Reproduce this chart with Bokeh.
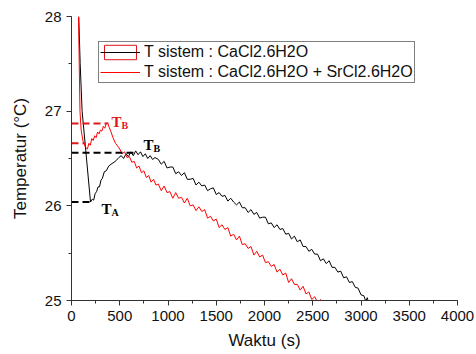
from bokeh.plotting import figure
from bokeh.models import (ColumnDataSource, Range1d, SingleIntervalTicker, Legend,
                          LegendItem, Label)
from bokeh.embed import file_html
from bokeh.resources import INLINE

# ---- data ----
black_t = [75, 90, 110, 150, 197, 215, 230, 245, 260, 275, 290, 305, 320, 340, 360, 386, 410,
           440, 465, 490, 515, 540, 565, 590, 615, 640, 665, 690, 715, 740, 765, 790, 815,
           840, 865,
           900, 930, 960, 990, 1020, 1050, 1080, 1110, 1140, 1170, 1200, 1230, 1260, 1290,
           1320, 1350, 1380, 1410, 1440, 1470, 1500, 1530, 1560, 1590, 1620, 1650, 1680, 1710,
           1740, 1770, 1800, 1830, 1860, 1890, 1920, 1950, 1980, 2010, 2040, 2070, 2100, 2130,
           2160, 2190, 2220, 2250, 2280, 2310, 2340, 2370, 2400, 2430, 2460, 2490, 2520, 2550,
           2580, 2610, 2640, 2670, 2700, 2730, 2760, 2790, 2820, 2850, 2880, 2910, 2940, 2970,
           3000, 3030, 3050, 3065, 3080]
black_T = [28.0, 27.5, 27.0, 26.56, 26.04, 26.07, 26.06, 26.13, 26.15, 26.2, 26.2, 26.27, 26.29,
           26.36, 26.37, 26.42, 26.44, 26.46, 26.48, 26.51, 26.53, 26.50, 26.55, 26.52, 26.57,
           26.53, 26.58, 26.54, 26.57, 26.52, 26.55, 26.50, 26.53, 26.49, 26.51,
           26.49, 26.44, 26.47, 26.40, 26.41, 26.41, 26.34, 26.36, 26.32, 26.35, 26.28, 26.28,
           26.29, 26.22, 26.25, 26.21, 26.22, 26.16, 26.18, 26.19, 26.12, 26.14, 26.10, 26.11,
           26.05, 26.08, 26.04, 26.01, 26.04, 25.98, 25.98, 25.93, 25.96, 25.91, 25.93, 25.87,
           25.88, 25.88, 25.81, 25.82, 25.77, 25.80, 25.75, 25.76, 25.70, 25.71, 25.65, 25.68,
           25.62, 25.64, 25.57, 25.57, 25.52, 25.54, 25.49, 25.49, 25.42, 25.44, 25.39, 25.42,
           25.35, 25.35, 25.30, 25.31, 25.24, 25.25, 25.19, 25.20, 25.14, 25.13, 25.06, 25.05,
           24.99, 25.03, 24.97]

red_t = [73, 80, 88, 100, 120, 145, 165, 180, 195, 210, 225, 240, 255, 270, 285, 300, 315, 330,
         345, 360, 375, 390, 410, 430, 456, 480, 500, 525, 550, 575, 600, 625, 650, 675, 700,
         725, 750, 775, 800, 825, 850, 875,
         900, 930, 960, 990, 1020, 1050, 1080, 1110, 1140, 1170, 1200, 1230, 1260, 1290, 1320,
         1350, 1380, 1410, 1440, 1470, 1500, 1530, 1560, 1590, 1620, 1650, 1680, 1710, 1740,
         1770, 1800, 1830, 1860, 1890, 1920, 1950, 1980, 2010, 2040, 2070, 2100, 2130, 2160,
         2190, 2220, 2250, 2280, 2310, 2340, 2370, 2400, 2430, 2460, 2490, 2520, 2550, 2580,
         2610, 2640, 2670, 2700]
red_T = [28.0, 27.5, 27.0, 26.8, 26.68, 26.62, 26.6, 26.66, 26.64, 26.71, 26.69, 26.74, 26.72,
         26.78, 26.76, 26.8, 26.79, 26.84, 26.82, 26.87, 26.88, 26.83, 26.78, 26.72, 26.66,
         26.63, 26.60, 26.55, 26.57, 26.51, 26.52, 26.46, 26.47, 26.40, 26.42, 26.35, 26.37,
         26.30, 26.32, 26.25, 26.28, 26.22,
         26.23, 26.16, 26.21, 26.14, 26.15, 26.08, 26.14, 26.08, 26.09, 26.03, 26.08, 26.00,
         26.01, 25.95, 25.99, 25.94, 25.96, 25.87, 25.89, 25.84, 25.86, 25.77, 25.80, 25.75,
         25.77, 25.68, 25.70, 25.64, 25.68, 25.59, 25.60, 25.55, 25.57, 25.48, 25.52, 25.46,
         25.48, 25.40, 25.41, 25.36, 25.38, 25.30, 25.33, 25.27, 25.29, 25.19, 25.23, 25.17,
         25.17, 25.11, 25.15, 25.07, 25.09, 25.01, 25.04, 24.98, 25.01, 24.97, 24.98, 24.95,
         24.93]

# T_A / T_B reference levels and the time they are marked at
ref_T = [26.87, 26.66, 26.56, 26.04]
ref_t_end = [373, 145, 642, 218]
ref_color = ["#e0161b", "#e0161b", "black", "black"]
label_text = ["B", "A", "B", "A"]
label_t = [414, -197, 746, 311]
label_T = [26.89, 26.66, 26.645, 25.97]

x_ticks_step = 500
y_ticks_step = 1
series_names = ["T sistem : CaCl2.6H2O", "T sistem : CaCl2.6H2O + SrCl2.6H2O"]

p = figure(width=476, height=354, output_backend="svg", toolbar_location=None,
           x_range=Range1d(0, 4000), y_range=Range1d(25, 28),
           min_border_left=71, min_border_right=19, min_border_top=16, min_border_bottom=54)
p.outline_line_color = None
p.grid.visible = False
p.background_fill_color = "white"

for ax, step in ((p.xaxis[0], x_ticks_step), (p.yaxis[0], y_ticks_step)):
    ax.ticker = SingleIntervalTicker(interval=step, num_minor_ticks=2)
    ax.axis_line_color = "#333333"
    ax.major_tick_line_color = "#333333"
    ax.minor_tick_line_color = "#333333"
    ax.major_tick_in = 0
    ax.major_tick_out = 5
    ax.minor_tick_in = 0
    ax.minor_tick_out = 3
    ax.major_label_text_font = "Liberation Sans"
    ax.major_label_text_font_size = "15px"
    ax.major_label_text_color = "#111111"
    ax.axis_label_text_font = "Liberation Sans"
    ax.axis_label_text_font_size = "17px"
    ax.axis_label_text_font_style = "normal"
    ax.axis_label_text_color = "#111111"
    ax.major_label_standoff = 5

p.xaxis.axis_label = "Waktu (s)"
p.yaxis.axis_label = "Temperatur (°C)"
p.xaxis.axis_label_standoff = 7
p.yaxis.axis_label_standoff = 12

src_b = ColumnDataSource(dict(t=black_t, T=black_T))
src_r = ColumnDataSource(dict(t=red_t, T=red_T))

# legend-only outlined box (degenerate, outside the visible y range)
box = p.quad(left=[0], right=[0], top=[0], bottom=[0], fill_color=None,
             line_color="#e0161b", line_width=1)
lb = p.line("t", "T", source=src_b, line_color="black", line_width=1)
lr = p.line("t", "T", source=src_r, line_color="red", line_width=1)

# dashed reference lines
seg_src = ColumnDataSource(dict(x0=[0] * len(ref_T), x1=ref_t_end, y=ref_T, c=ref_color))
p.segment(x0="x0", y0="y", x1="x1", y1="y", source=seg_src, line_color="c",
          line_width=2, line_dash="7 4")

for txt, tx, ty, col in zip(label_text, label_t, label_T, ref_color):
    p.add_layout(Label(x=tx, y=ty, text="T", text_font="Liberation Serif",
                       text_font_style="bold", text_font_size="15px", text_color=col,
                       text_baseline="middle", text_align="left"))
    p.add_layout(Label(x=tx, y=ty, x_offset=10, y_offset=-4, text=txt,
                       text_font="Liberation Serif", text_font_style="bold",
                       text_font_size="10px", text_color=col,
                       text_baseline="middle", text_align="left"))

legend = Legend(items=[LegendItem(label=series_names[0], renderers=[box, lb]),
                       LegendItem(label=series_names[1], renderers=[lr])],
                location=(27, 217))
legend.padding = 1
legend.margin = 0
legend.spacing = 2
legend.glyph_width = 40
legend.glyph_height = 18
legend.label_standoff = 4
legend.label_height = 18
legend.label_text_font = "Liberation Sans"
legend.label_text_font_size = "16px"
legend.label_text_color = "#111111"
legend.border_line_color = "black"
legend.border_line_width = 1
legend.background_fill_alpha = 1
p.add_layout(legend, "center")

open("out.html", "w").write(file_html(p, INLINE))
